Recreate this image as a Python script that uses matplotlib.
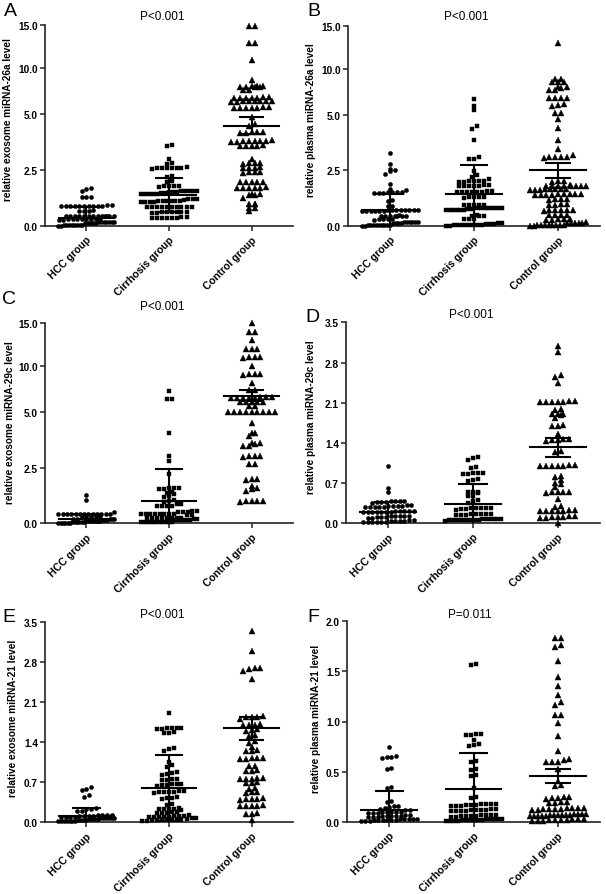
import numpy as np
import matplotlib
matplotlib.use('Agg')
import matplotlib.pyplot as plt

plt.rcParams['font.family'] = ['Liberation Sans', 'DejaVu Sans']

W, H = 606, 895

groups = ['HCC group', 'Cirrhosis group', 'Control group']
letters = ['A', 'B', 'C', 'D', 'E', 'F']
p_texts = ['P<0.001', 'P<0.001', 'P<0.001', 'P<0.001', 'P<0.001', 'P=0.011']
ylabels = ['relative exosome miRNA-26a level', 'relative plasma miRNA-26a level',
           'relative exosome miRNA-29c level', 'relative plasma miRNA-29c level',
           'relative exosome miRNA-21 level', 'relative plasma miRNA-21 level']

# ---------------- data ----------------
hcc_A = [1.68, 1.66, 1.56, 1.32, 1.30, 1.29,
         0.92, 0.91, 0.90, 0.90, 0.89, 0.89, 0.88, 0.90, 0.91, 0.92, 0.88, 0.89,
         0.70, 0.68, 0.67, 0.69,
         0.47, 0.46, 0.45, 0.46, 0.44, 0.47, 0.45, 0.46, 0.44, 0.45, 0.47, 0.43, 0.46,
         0.32, 0.30, 0.31, 0.29, 0.33, 0.30, 0.28, 0.31, 0.30, 0.32,
         0.18, 0.16, 0.17, 0.15, 0.14, 0.16, 0.18, 0.15, 0.17, 0.14, 0.16, 0.15,
         0.05, 0.04, 0.03, 0.05, 0.02, 0.04, 0.03, 0.06, 0.02, 0.04]
cir_A = [3.62, 3.58, 3.0, 2.80, 2.78,
         2.60, 2.58, 2.62, 2.57, 2.59, 2.61, 2.58, 2.60,
         2.25, 2.2, 2.02, 1.98,
         1.80, 1.78, 1.76, 1.79, 1.77,
         1.56, 1.55, 1.54, 1.57, 1.53, 1.55, 1.56, 1.54,
         1.45, 1.44, 1.46, 1.43, 1.45, 1.44, 1.46,
         1.20, 1.22, 1.18, 1.21,
         1.10, 1.09, 1.11, 1.08, 1.12, 1.10, 1.09, 1.11, 1.10, 1.08,
         0.85, 0.84, 0.86, 0.83, 0.85, 0.84, 0.86, 0.85, 0.83, 0.84,
         0.62, 0.60, 0.63, 0.61, 0.62, 0.60, 0.61, 0.62,
         0.38, 0.37, 0.39, 0.36, 0.38, 0.37, 0.39, 0.38]
ctl_A = [14.9, 14.9, 12.9, 12.9, 10.9, 8.7,
         8.05, 8.0, 7.95, 8.0, 8.05, 7.98, 8.02,
         7.6, 7.6,
         6.85, 6.8, 6.82, 6.78, 6.8, 6.84, 6.8,
         6.4, 6.38, 6.42, 6.4, 6.36, 6.4, 6.44, 6.4,
         5.75, 5.7, 5.72, 5.68, 5.7, 5.74, 5.7,
         4.9, 4.55, 4.5,
         4.2, 4.18, 4.22, 4.2, 4.15,
         3.82, 3.8, 3.78, 3.8, 3.84, 3.8, 3.76, 3.82,
         3.6, 3.58, 3.62, 3.6, 3.6,
         3.0, 2.82, 2.8, 2.78, 2.8,
         2.62, 2.6, 2.58, 2.6,
         2.4, 2.42, 2.38, 2.4,
         1.97, 1.95, 1.98, 1.96, 1.97,
         1.72, 1.70, 1.71, 1.73, 1.72, 1.70,
         1.42, 1.40, 1.41, 1.43,
         1.26, 1.0, 0.98, 1.0, 0.8, 0.82, 0.65]

hcc_B = [3.27, 2.78, 2.55, 2.5, 2.45, 2.35, 1.87,
         1.65, 1.62, 1.55, 1.52, 1.5, 1.52, 1.54, 1.5, 1.48,
         1.16, 1.14, 0.9, 0.92,
         0.72, 0.70, 0.71, 0.69, 0.68, 0.72, 0.70, 0.67, 0.71, 0.69, 0.73, 0.66, 0.70, 0.68,
         0.47, 0.46, 0.45, 0.47, 0.44, 0.46, 0.48, 0.45,
         0.32, 0.30, 0.31, 0.29, 0.33,
         0.16, 0.15, 0.17, 0.14, 0.16, 0.15, 0.18, 0.14, 0.16, 0.17,
         0.05, 0.04, 0.06, 0.03, 0.05, 0.02, 0.04, 0.03, 0.06, 0.02, 0.04]
cir_B = [6.72, 6.0, 5.55, 4.5, 4.38, 3.86, 3.1, 3.02, 3.0,
         2.45, 2.3, 2.2, 2.1,
         2.02, 2.0, 1.98, 2.01, 1.99, 2.0,
         1.82, 1.8, 1.78, 1.81, 1.79, 1.8, 1.82,
         1.55, 1.54, 1.56, 1.53, 1.55, 1.57, 1.54, 1.55,
         1.3, 1.28, 1.31, 1.29, 1.3,
         0.95, 0.94, 0.96, 0.95, 0.93,
         0.80, 0.79, 0.81, 0.78, 0.80, 0.82, 0.79, 0.80, 0.81, 0.78, 0.8,
         0.72, 0.71, 0.73, 0.70, 0.72, 0.71,
         0.48, 0.46, 0.45, 0.47,
         0.32, 0.3, 0.31,
         0.12, 0.1, 0.11, 0.13, 0.1,
         0.04, 0.03, 0.05, 0.02, 0.04, 0.03, 0.05, 0.02, 0.04, 0.03]
ctl_B = [13.0, 8.9, 8.9, 8.55, 8.5, 8.6, 8.0, 7.95, 8.05, 7.7, 7.65,
         6.85, 6.8, 6.82, 6.78, 6.2, 6.0, 6.02, 5.2, 5.15, 4.83, 4.4, 3.85, 3.45,
         3.12, 3.1, 3.08, 3.05, 3.1, 3.2,
         2.0, 1.98, 2.02,
         1.80, 1.78, 1.81, 1.79, 1.80, 1.82, 1.78, 1.80, 1.79,
         1.65, 1.64, 1.66, 1.63, 1.65, 1.64, 1.66, 1.65,
         1.42, 1.41, 1.43, 1.40, 1.42, 1.41, 1.43, 1.42, 1.40,
         1.22, 1.2, 1.21, 1.19,
         0.98, 0.95, 0.97, 0.96,
         0.72, 0.70, 0.71, 0.69, 0.72, 0.7,
         0.5, 0.48, 0.49, 0.51,
         0.3, 0.28, 0.29, 0.31, 0.3,
         0.15, 0.14, 0.16, 0.13, 0.15, 0.14,
         0.05, 0.04, 0.03, 0.05, 0.02, 0.04, 0.03, 0.05, 0.04, 0.02]

hcc_C = [1.27, 1.03, 0.49,
         0.42, 0.41, 0.40, 0.42, 0.41, 0.43, 0.40, 0.41, 0.42, 0.40, 0.41, 0.42, 0.43,
         0.30, 0.31, 0.29, 0.30, 0.32,
         0.18, 0.17, 0.19, 0.16, 0.18, 0.17, 0.19, 0.18,
         0.10, 0.09, 0.11, 0.08, 0.10, 0.09, 0.11, 0.10,
         0.04, 0.03, 0.05, 0.02, 0.04, 0.03, 0.05, 0.02, 0.04, 0.03, 0.02]
cir_C = [7.3, 6.4, 6.35, 4.05, 3.0, 2.78, 2.2,
         1.6, 1.58, 1.56, 1.55, 1.57,
         1.4, 1.38, 1.3, 1.22, 1.2,
         1.05, 1.02, 0.97,
         0.88, 0.85, 0.78, 0.77, 0.76, 0.79,
         0.55, 0.52, 0.5, 0.53, 0.51,
         0.42, 0.41, 0.40, 0.43, 0.39, 0.41, 0.42, 0.40, 0.38, 0.41,
         0.25, 0.24, 0.26, 0.23, 0.25, 0.24, 0.26, 0.25,
         0.17, 0.16, 0.18, 0.15, 0.17, 0.16, 0.18,
         0.06, 0.05, 0.07, 0.04, 0.06, 0.05, 0.07, 0.04, 0.05, 0.06]
ctl_C = [15.0, 13.95, 13.9, 13.0, 11.9, 11.95, 11.9, 11.0, 11.0, 11.05, 10.95, 10.0,
         9.05, 9.1, 9.0, 9.05, 8.1, 7.4, 7.35,
         6.55, 6.52, 6.58, 6.55, 6.5, 6.56, 6.54, 6.57,
         6.1, 6.12, 6.08, 6.1, 6.05,
         5.6, 5.62,
         5.0, 5.02, 4.98, 5.0, 5.01, 4.99, 5.0, 5.02, 4.98,
         4.52, 4.07, 4.05, 3.9,
         3.62, 3.6, 3.58, 3.45, 3.47,
         3.0, 3.02, 2.98, 3.0,
         2.68, 2.66,
         1.97, 1.98, 1.96, 1.66, 1.57, 1.56, 1.46,
         0.98, 0.97, 0.99, 0.98, 0.98]

hcc_D = [0.99, 0.61, 0.54,
         0.38, 0.37, 0.39, 0.38, 0.37, 0.36, 0.38, 0.37,
         0.30, 0.29, 0.31, 0.30, 0.28, 0.30, 0.29, 0.31, 0.30, 0.29, 0.28,
         0.21, 0.20, 0.22, 0.19, 0.21, 0.20, 0.22, 0.19, 0.2, 0.21, 0.2, 0.19,
         0.12, 0.11, 0.13, 0.10, 0.12, 0.11, 0.13, 0.12, 0.1, 0.11,
         0.04, 0.03, 0.05, 0.02, 0.04, 0.03, 0.05, 0.02, 0.04, 0.03, 0.02, 0.04]
cir_D = [1.15, 1.14, 1.1, 0.98, 0.96,
         0.88, 0.87, 0.86, 0.85, 0.87,
         0.78, 0.76, 0.74,
         0.55, 0.54, 0.53, 0.55,
         0.48, 0.47,
         0.4, 0.38, 0.36,
         0.26, 0.25, 0.27, 0.24, 0.26, 0.25, 0.27, 0.26,
         0.16, 0.15, 0.17, 0.16, 0.15, 0.17, 0.16, 0.14,
         0.07, 0.06, 0.08, 0.05, 0.07, 0.06, 0.08, 0.05, 0.06, 0.07, 0.05, 0.06, 0.04,
         0.07, 0.05, 0.06]
ctl_D = [3.09, 2.99, 2.58, 2.55, 2.44,
         2.12, 2.13, 2.11, 2.12, 2.13, 2.11, 2.12,
         1.99, 1.98, 1.9, 1.9, 1.91, 1.89, 1.83,
         1.7, 1.69, 1.71, 1.55,
         1.46, 1.45, 1.44, 1.45, 1.46,
         1.26, 1.24,
         1.0, 1.01, 0.99, 1.0, 1.01, 0.99, 1.0,
         0.82, 0.8, 0.76, 0.7, 0.68, 0.63,
         0.54, 0.54, 0.53, 0.55, 0.54,
         0.43, 0.3, 0.29,
         0.22, 0.21, 0.23, 0.22, 0.21, 0.23, 0.22,
         0.11, 0.11, 0.10, 0.12, 0.11, 0.10, 0.12,
         0.0]

hcc_E = [0.62, 0.58, 0.57, 0.47, 0.45,
         0.25, 0.24, 0.23, 0.2, 0.19,
         0.12, 0.11, 0.12, 0.10, 0.11, 0.12, 0.10, 0.11, 0.09, 0.10, 0.11, 0.12,
         0.08, 0.07, 0.08, 0.06, 0.07, 0.08, 0.06, 0.07,
         0.04, 0.03, 0.05, 0.02, 0.04, 0.03, 0.05, 0.02, 0.04, 0.03, 0.02, 0.04, 0.03]
cir_E = [1.91, 1.65, 1.64, 1.63, 1.65, 1.62, 1.64, 1.56, 1.55, 1.57,
         1.3, 1.28, 1.25, 1.05, 1.0, 0.96,
         0.88, 0.86, 0.84, 0.82, 0.76, 0.75, 0.74, 0.73,
         0.66, 0.65, 0.67, 0.64, 0.66, 0.65,
         0.54, 0.53, 0.52, 0.55, 0.51, 0.53, 0.52,
         0.43, 0.42, 0.41, 0.44,
         0.32, 0.3,
         0.24, 0.23, 0.25, 0.24, 0.22, 0.23,
         0.18, 0.17, 0.18, 0.16, 0.17,
         0.11, 0.10, 0.12, 0.09, 0.11, 0.10, 0.09, 0.11, 0.10,
         0.06, 0.05, 0.07, 0.04, 0.06, 0.05, 0.07, 0.04, 0.05, 0.06,
         0.02, 0.03]
ctl_E = [3.33, 2.99, 2.69, 2.68, 2.7, 2.64, 2.5,
         1.84, 1.85, 1.83, 1.84, 1.8,
         1.7, 1.71, 1.69, 1.7,
         1.61, 1.62, 1.6, 1.51, 1.52, 1.41, 1.39, 1.31,
         1.25, 1.26, 1.24,
         1.12, 1.11, 1.13, 1.12, 1.11,
         0.99, 0.98, 0.9, 0.91, 0.89,
         0.76, 0.77, 0.75, 0.76, 0.77,
         0.69, 0.7, 0.68, 0.58, 0.59, 0.52, 0.51, 0.53,
         0.4, 0.41, 0.39, 0.4, 0.42,
         0.29, 0.28, 0.3, 0.29, 0.28,
         0.15, 0.16, 0.14, 0.04]

hcc_F = [0.75, 0.66, 0.65, 0.64, 0.65, 0.54, 0.53, 0.35, 0.34, 0.21, 0.2,
         0.16, 0.15, 0.16, 0.14, 0.13, 0.12, 0.12,
         0.1, 0.09, 0.1, 0.09, 0.1, 0.1, 0.09, 0.1,
         0.06, 0.06, 0.05, 0.06, 0.07, 0.05, 0.06, 0.05, 0.06, 0.07,
         0.03, 0.02, 0.03, 0.02, 0.03, 0.01, 0.02, 0.03, 0.02, 0.01, 0.03, 0.02, 0.01, 0.02]
cir_F = [1.57, 1.56, 0.88, 0.87, 0.88, 0.87, 0.82, 0.78, 0.76, 0.77,
         0.6, 0.61, 0.52, 0.53, 0.47, 0.46, 0.34, 0.25, 0.24,
         0.18, 0.17, 0.18, 0.16, 0.17, 0.18, 0.16, 0.17, 0.18, 0.16,
         0.12, 0.11, 0.12, 0.13, 0.11, 0.12, 0.13, 0.11, 0.12, 0.11,
         0.07, 0.06, 0.07, 0.06, 0.05, 0.07, 0.06, 0.05, 0.07, 0.06,
         0.03, 0.02, 0.03, 0.01, 0.02, 0.03, 0.02, 0.01, 0.03, 0.02, 0.01, 0.02, 0.03, 0.02, 0.01]
ctl_F = [1.83, 1.83, 1.76, 1.74, 1.6, 1.44, 1.35, 1.26, 1.19, 1.16, 1.06, 1.06, 0.99, 0.86, 0.71,
         0.63, 0.62, 0.6, 0.6, 0.6, 0.53, 0.41, 0.36, 0.37,
         0.25, 0.24, 0.25, 0.24, 0.23,
         0.2, 0.19, 0.2, 0.19,
         0.14, 0.13, 0.14, 0.12, 0.13, 0.14, 0.13, 0.12, 0.14, 0.13,
         0.08, 0.07, 0.06, 0.07, 0.08, 0.06, 0.07, 0.06, 0.08, 0.07, 0.06, 0.07, 0.08, 0.06, 0.07,
         0.03, 0.02, 0.01, 0.03, 0.02, 0.01, 0.02, 0.03, 0.01, 0.02]

# group means and error bar half-lengths
means_A = [0.38, 1.39, 4.50]; errs_A = [0.49, 0.77, 0.40]
means_B = [0.72, 1.42, 2.50]; errs_B = [0.73, 1.31, 0.34]
means_C = [0.19, 0.99, 6.76]; errs_C = [0.21, 1.45, 0.61]
means_D = [0.19, 0.34, 1.32]; errs_D = [0.18, 0.34, 0.16]
means_E = [0.11, 0.60, 1.64]; errs_E = [0.14, 0.57, 0.20]
means_F = [0.12, 0.33, 0.46]; errs_F = [0.19, 0.36, 0.07]

ticks_big = [0, 2.5, 5, 10, 15]
ticklabels_big = ['0.0', '2.5', '5.0', '10.0', '15.0']
ticks_35 = [0, 0.7, 1.4, 2.1, 2.8, 3.5]
ticklabels_35 = ['0.0', '0.7', '1.4', '2.1', '2.8', '3.5']
ticks_20 = [0, 0.5, 1.0, 1.5, 2.0]
ticklabels_20 = ['0.0', '0.5', '1.0', '1.5', '2.0']

panels = [
    (hcc_A, cir_A, ctl_A, means_A, errs_A, ticks_big, ticklabels_big, True),
    (hcc_B, cir_B, ctl_B, means_B, errs_B, ticks_big, ticklabels_big, True),
    (hcc_C, cir_C, ctl_C, means_C, errs_C, ticks_big, ticklabels_big, True),
    (hcc_D, cir_D, ctl_D, means_D, errs_D, ticks_35, ticklabels_35, False),
    (hcc_E, cir_E, ctl_E, means_E, errs_E, ticks_35, ticklabels_35, False),
    (hcc_F, cir_F, ctl_F, means_F, errs_F, ticks_20, ticklabels_20, False),
]

# ---------------- layout (pixels) ----------------
axes_px = [(45, 26, 293, 227), (348, 26.7, 600, 227),
           (45, 323.7, 293, 524.3), (346, 323.3, 600, 524.3),
           (45, 622.7, 293, 823.3), (347, 622.3, 600, 822.7)]
title_px = [(162, 17), (466, 17), (162, 307), (471, 315), (162, 615), (470, 615)]
letter_px = [(4, 12), (307, 12), (2, 300), (305, 317), (2, 617), (307, 617)]
ylab_off = [32, 32, 30, 30, 27, 26]
ylab_y = [0.537, 0.535, 0.506, 0.534, 0.525, 0.52]

# piecewise axis used by GraphPad for panels A-C
_fw_x = [-100, 0, 2.5, 5, 10, 15, 100]
_fw_y = [-100, 0, 2.5, 5, 7.07, 9.0, 9.0 + 85 * 0.386]


def fwd(v):
    return np.interp(v, _fw_x, _fw_y)


def inv(v):
    return np.interp(v, _fw_y, _fw_x)


markers = ['o', 's', '^']
msizes = [3.0, 2.8, 3.8]
spacings = [4.6, 5.0, 5.8]
cap_half = [0.16, 0.16, 0.14]
mean_half = 0.33

fig = plt.figure(figsize=(W / 100, H / 100), dpi=100)


def swarm_x(ax, values, xc, spacing_px, maxhalf_px=28, row_px=3.6):
    vals = np.asarray(values, float)
    pts = ax.transData.transform(np.column_stack([np.full(len(vals), xc), vals]))
    ypix = pts[:, 1]
    ppu = ax.transData.transform([[1, 0]])[0, 0] - ax.transData.transform([[0, 0]])[0, 0]
    order = np.argsort(vals, kind='stable')
    rows, cur, start = [], [], None
    for i in order:
        if start is None or ypix[i] - start > row_px:
            if cur:
                rows.append(cur)
            cur, start = [i], ypix[i]
        else:
            cur.append(i)
    if cur:
        rows.append(cur)
    off = np.zeros(len(vals))
    for r in rows:
        n = len(r)
        sp = spacing_px
        if n > 1 and (n - 1) * sp > 2 * maxhalf_px:
            sp = 2 * maxhalf_px / (n - 1)
        for k, i in enumerate(r):
            off[i] = (k - (n - 1) / 2) * sp / ppu
    return xc + off


for p, (h, c, t, means, errs, ticks, tlabels, piecewise) in enumerate(panels):
    l, tp, r, b = axes_px[p]
    ax = fig.add_axes([l / W, 1 - b / H, (r - l) / W, (b - tp) / H])
    if piecewise:
        ax.set_yscale('function', functions=(fwd, inv))
    ax.set_xlim(-0.5, 2.5)
    ax.set_ylim(ticks[0], ticks[-1])
    for s in ['top', 'right']:
        ax.spines[s].set_visible(False)
    for s in ['left', 'bottom']:
        ax.spines[s].set_linewidth(1.2)
        ax.spines[s].set_color('#222222')
    ax.set_yticks(ticks)
    ax.set_yticklabels(tlabels, fontsize=7.3, fontweight='bold')
    ax.yaxis.set_minor_locator(matplotlib.ticker.NullLocator())
    ax.set_xticks([0, 1, 2])
    ax.set_xticklabels(groups, rotation=45, ha='right', va='top', rotation_mode='anchor',
                       fontsize=7.6, fontweight='bold')
    ax.tick_params(axis='both', direction='out', length=3.5, width=1.1, color='#222222', pad=1.5)
    ax.tick_params(axis='x', pad=2.5)
    ax.set_ylabel(ylabels[p], fontsize=7.2, fontweight='bold')
    ax.yaxis.set_label_coords(-ylab_off[p] / (r - l), ylab_y[p])

    for g, vals in enumerate([h, c, t]):
        xs = swarm_x(ax, vals, g, spacings[g])
        ax.plot(xs, vals, linestyle='none', marker=markers[g], ms=msizes[g],
                color='black', mec='black', mew=0.3, clip_on=False, zorder=3)
        m, e = means[g], errs[g]
        ax.plot([g - mean_half, g + mean_half], [m, m], color='black', lw=1.5, zorder=4)
        ax.plot([g, g], [m - e, m + e], color='black', lw=1.5, zorder=4)
        ax.plot([g - cap_half[g], g + cap_half[g]], [m + e, m + e], color='black', lw=1.5, zorder=4)
        if m - e > ticks[0]:
            ax.plot([g - cap_half[g], g + cap_half[g]], [m - e, m - e], color='black', lw=1.5, zorder=4)

    tx, ty = title_px[p]
    fig.text(tx / W, 1 - ty / H, p_texts[p], ha='center', va='center', fontsize=8.5)
    lx, ly = letter_px[p]
    fig.text(lx / W, 1 - ly / H, letters[p], ha='left', va='center', fontsize=14)

fig.savefig('out.png', dpi=100)
